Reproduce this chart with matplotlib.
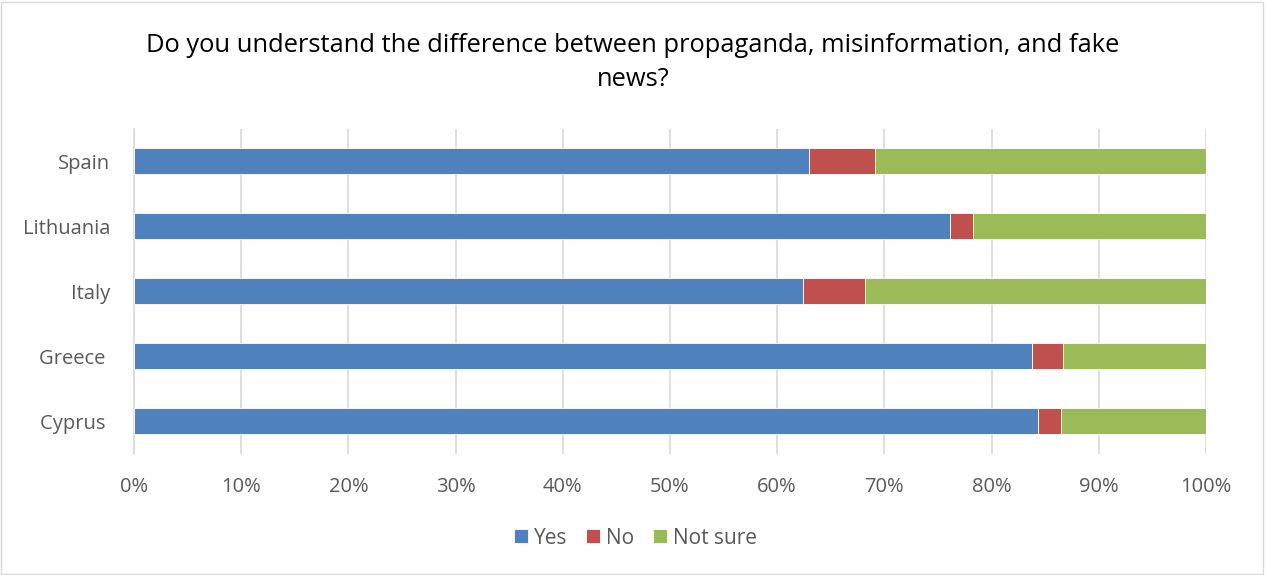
import numpy as np
import matplotlib.pyplot as plt
from matplotlib.patches import Rectangle
from matplotlib.ticker import PercentFormatter

plt.rcParams['font.family'] = ['Open Sans', 'DejaVu Sans']

countries = ['Spain', 'Lithuania', 'Italy', 'Greece ', 'Cyprus ']
yes = [63.0, 76.1, 62.4, 83.8, 84.3]
no = [6.1, 2.2, 5.8, 2.9, 2.2]
not_sure = [30.9, 21.7, 31.8, 13.3, 13.5]

colors = ['#4F81BD', '#C0504D', '#9BBB59']
txt = '#595959'

fig = plt.figure(figsize=(12.66, 5.75), dpi=100)
ax = fig.add_axes([0.1058, 0.2113, 0.8468, 0.5652])

y = np.arange(len(countries))[::-1]
left = np.zeros(len(countries))
for vals, c, name in zip([yes, no, not_sure], colors, ['Yes', 'No', 'Not sure']):
    ax.barh(y, vals, left=left, height=0.4, color=c, label=name,
            edgecolor='white', linewidth=0.6, zorder=3)
    left += np.array(vals)

ax.set_xlim(0, 100)
ax.set_ylim(-0.5, len(countries) - 0.5)
ax.set_xticks(np.arange(0, 101, 10))
ax.xaxis.set_major_formatter(PercentFormatter(decimals=0))
ax.set_yticks(y)
ax.set_yticklabels(countries)
ax.tick_params(axis='both', length=0, labelsize=14.5, colors=txt)
ax.tick_params(axis='x', pad=17)
ax.tick_params(axis='y', pad=17)
ax.grid(axis='x', color='#D9D9D9', linewidth=1.2, zorder=0)
for s in ['top', 'right', 'bottom']:
    ax.spines[s].set_visible(False)
ax.spines['left'].set_color('#D9D9D9')
ax.spines['left'].set_linewidth(1.2)

fig.text(0.5, 0.892, 'Do you understand the difference between propaganda, misinformation, and fake\nnews?',
         ha='center', va='center', fontsize=18.4, color='black', linespacing=1.48)

fig.legend(loc='center', bbox_to_anchor=(0.502, 0.064), ncol=3, frameon=False,
           fontsize=15, handlelength=0.65, handleheight=0.65, handletextpad=0.3,
           columnspacing=0.9, labelcolor=txt)

fig.patches.append(Rectangle((0.001, 0.002), 0.997, 0.995, transform=fig.transFigure,
                             fill=False, edgecolor='#D9D9D9', linewidth=1))

fig.savefig('out.png', dpi=100)
